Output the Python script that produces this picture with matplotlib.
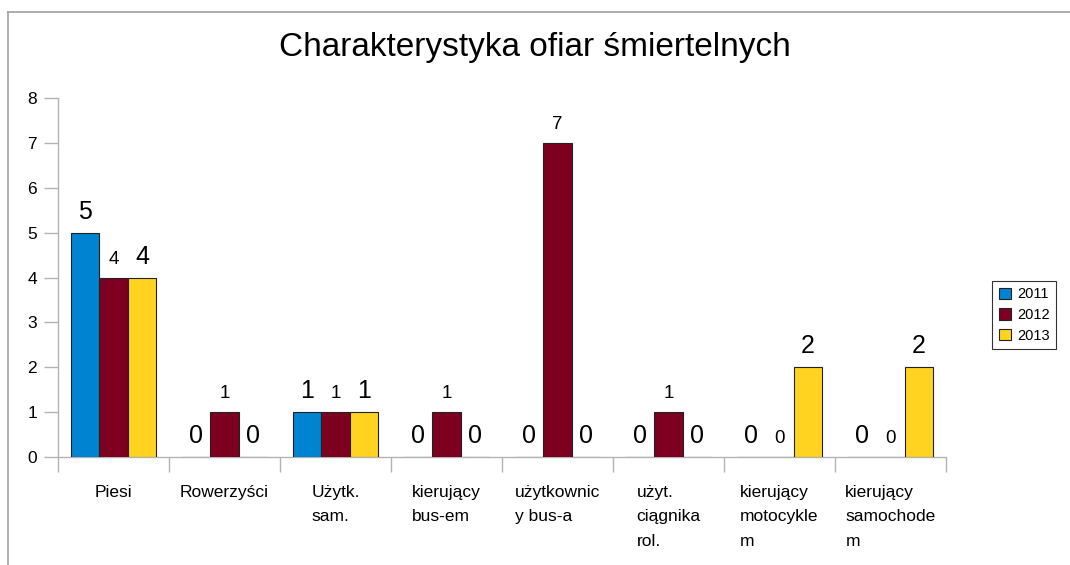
import matplotlib
matplotlib.use("Agg")
import matplotlib.pyplot as plt
from matplotlib.lines import Line2D
import numpy as np

plt.rcParams['font.family'] = ['Liberation Sans', 'DejaVu Sans']

categories = ["Piesi", "Rowerzyści", "Użytk.\nsam.", "kierujący\nbus-em",
              "użytkownic\ny bus-a", "użyt.\nciągnika\nrol.", "kierujący\nmotocykle\nm",
              "kierujący\nsamochode\nm"]
series_names = ["2011", "2012", "2013"]
v2011 = [5, 0, 1, 0, 0, 0, 0, 0]
v2012 = [4, 1, 1, 1, 7, 1, 0, 0]
v2013 = [4, 0, 1, 0, 0, 0, 2, 2]
values = [v2011, v2012, v2013]
colors = ["#0084D1", "#7E0021", "#FFD320"]
label_sizes = [18, 13.5, 18]

W, H = 1070, 565
fig = plt.figure(figsize=(W / 100, H / 100), dpi=100)
ax = fig.add_axes([58 / W, (H - 457) / H, (946 - 58) / W, (457 - 98) / H])

x = np.arange(len(categories))
bw = 0.258
for i, (vals, c) in enumerate(zip(values, colors)):
    pos = x + (i - 1) * bw
    ax.bar(pos, vals, width=bw, color=c, edgecolor="#222222", linewidth=0.8,
           label=series_names[i], zorder=3)
    for px, v in zip(pos, vals):
        ax.annotate(str(v), (px, v), xytext=(0, 14), textcoords="offset pixels",
                    ha="center", va="baseline", fontsize=label_sizes[i], color="black")

ax.set_xlim(-0.5, len(categories) - 0.5)
ax.set_ylim(0, 8)
ax.set_yticks(range(0, 9))
ax.tick_params(axis="y", length=10, width=1, color="#b3b3b3", labelsize=12.5, pad=5)
ax.set_xticks(x)
ax.set_xticklabels(categories, fontsize=12.5, linespacing=1.8, multialignment="left")
ax.tick_params(axis="x", which="major", length=0, pad=20)
ax.set_xticks(np.arange(len(categories) + 1) - 0.5, minor=True)
ax.tick_params(axis="x", which="minor", length=11, width=1, color="#b3b3b3")
for lbl in ax.get_xticklabels():
    lbl.set_verticalalignment("top")

for s in ["top", "right"]:
    ax.spines[s].set_visible(False)
for s in ["left", "bottom"]:
    ax.spines[s].set_color("#b3b3b3")
    ax.spines[s].set_linewidth(1)

fig.text(0.5, (H - 56) / H, "Charakterystyka ofiar śmiertelnych", ha="center",
         va="baseline", fontsize=24)

# outer frame
fig.add_artist(Line2D([8 / W, 1], [(H - 12) / H, (H - 12) / H], color="#a0a0a0", lw=1.2))
fig.add_artist(Line2D([8 / W, 8 / W], [0, (H - 12) / H], color="#a0a0a0", lw=1.2))

leg = fig.legend(loc="center", bbox_to_anchor=(1024 / W, (H - 315) / H), fontsize=10.5,
                 frameon=True, fancybox=False, handlelength=0.85, handleheight=0.85,
                 handletextpad=0.4, labelspacing=0.45, borderpad=0.45)
leg.get_frame().set_edgecolor("black")
leg.get_frame().set_linewidth(0.8)

fig.savefig("out.png", dpi=100)
